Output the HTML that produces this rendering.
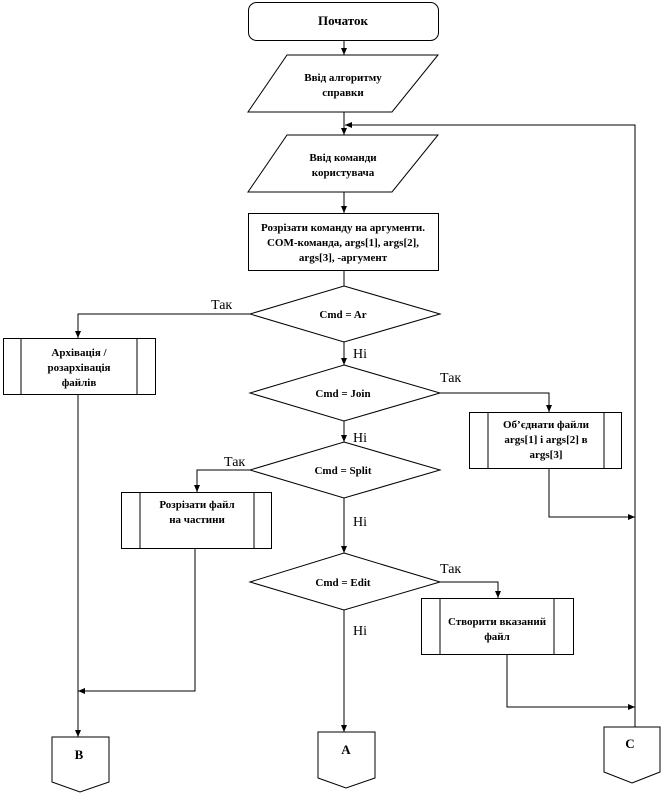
<!DOCTYPE html>
<html><head><meta charset="utf-8"><style>body{margin:0;background:#fff}svg{display:block}</style></head><body>
<svg width="661" height="797" viewBox="0 0 661 797" xmlns="http://www.w3.org/2000/svg">
<defs><marker id="a" markerWidth="8" markerHeight="8" refX="7" refY="4" orient="auto" markerUnits="userSpaceOnUse"><path d="M0,1 L7,4 L0,7 Z" fill="#000"/></marker></defs>
<g fill="none" stroke="#000" stroke-width="1">
<rect x="248.5" y="2.5" width="190" height="38" rx="8"/>
<line x1="344" y1="40" x2="344" y2="55" marker-end="url(#a)"/>
<polygon points="287,55 438,55 392,112 248,112"/>
<line x1="344" y1="112" x2="344" y2="135" marker-end="url(#a)"/>
<polyline points="635,727 635,125 345,125" marker-end="url(#a)"/>
<polygon points="287,135 438,135 392,192 248,192"/>
<line x1="344" y1="192" x2="344" y2="213" marker-end="url(#a)"/>
<rect x="248.5" y="213.5" width="190" height="57"/>
<line x1="344" y1="270" x2="344" y2="286"/>
<polygon points="344,286 440,314 344,342 250,314"/>
<polyline points="250,314 78,314 78,338" marker-end="url(#a)"/>
<rect x="3.5" y="338.5" width="152" height="56"/>
<line x1="21" y1="338" x2="21" y2="394"/><line x1="137" y1="338" x2="137" y2="394"/>
<line x1="344" y1="342" x2="344" y2="365" marker-end="url(#a)"/>
<polygon points="344,365 440,393 344,421 250,393"/>
<polyline points="440,393 549,393 549,412" marker-end="url(#a)"/>
<rect x="469.5" y="412.5" width="152" height="56"/>
<line x1="488" y1="412" x2="488" y2="469"/><line x1="604" y1="412" x2="604" y2="469"/>
<polyline points="549,469 549,517 635,517" marker-end="url(#a)"/>
<line x1="344" y1="421" x2="344" y2="442" marker-end="url(#a)"/>
<polygon points="344,442 440,470 344,498 250,470"/>
<polyline points="250,470 197,470 197,492" marker-end="url(#a)"/>
<rect x="121.5" y="492.5" width="150" height="56"/>
<line x1="140" y1="492" x2="140" y2="548"/><line x1="254" y1="492" x2="254" y2="548"/>
<polyline points="195,548 195,691 78,691" marker-end="url(#a)"/>
<line x1="78" y1="394" x2="78" y2="737" marker-end="url(#a)"/>
<line x1="344" y1="498" x2="344" y2="553" marker-end="url(#a)"/>
<polygon points="344,553 440,582 344,610 250,582"/>
<polyline points="440,582 498,582 498,598" marker-end="url(#a)"/>
<rect x="421.5" y="598.5" width="152" height="56"/>
<line x1="440" y1="598" x2="440" y2="655"/><line x1="554" y1="598" x2="554" y2="655"/>
<polyline points="507,655 507,707 635,707" marker-end="url(#a)"/>
<line x1="344" y1="610" x2="344" y2="732" marker-end="url(#a)"/>
<polygon points="52,737 109,737 109,782 80,792 52,782"/>
<polygon points="318,732 375,732 375,778 346,788 318,778"/>
<polygon points="604,727 660,727 660,772 632,783 604,772"/>
</g>
<g font-family="Liberation Serif, serif" font-size="11" font-weight="bold" text-anchor="middle" fill="#000">
<text x="343" y="25" font-size="13">Початок</text>
<text x="343" y="81">Ввід алгоритму</text><text x="343" y="96">справки</text>
<text x="343" y="161">Ввід команди</text><text x="343" y="176">користувача</text>
<text x="343" y="231">Розрізати команду на аргументи.</text>
<text x="343" y="246">COM-команда, args[1], args[2],</text>
<text x="343" y="261">args[3], -аргумент</text>
<text x="343" y="318">Cmd = Ar</text>
<text x="343" y="397">Cmd = Join</text>
<text x="343" y="474">Cmd = Split</text>
<text x="343" y="586">Cmd = Edit</text>
<text x="79" y="356">Архівація /</text><text x="79" y="371">розархівація</text><text x="79" y="386">файлів</text>
<text x="546" y="428">Об’єднати файли</text><text x="546" y="443">args[1] і args[2] в</text><text x="546" y="458">args[3]</text>
<text x="197" y="508">Розрізати файл</text><text x="197" y="523">на частини</text>
<text x="497" y="625">Створити вказаний</text><text x="497" y="640">файл</text>
<text x="79" y="759" font-size="13">B</text>
<text x="346" y="754" font-size="13">A</text>
<text x="630" y="748" font-size="13">C</text>
</g>
<g font-family="Liberation Serif, serif" font-size="14" fill="#000">
<text x="211" y="309">Так</text>
<text x="353" y="358">Ні</text>
<text x="440" y="382">Так</text>
<text x="353" y="442">Ні</text>
<text x="224" y="466">Так</text>
<text x="353" y="526">Ні</text>
<text x="440" y="573">Так</text>
<text x="353" y="635">Ні</text>
</g>
</svg>
</body></html>
